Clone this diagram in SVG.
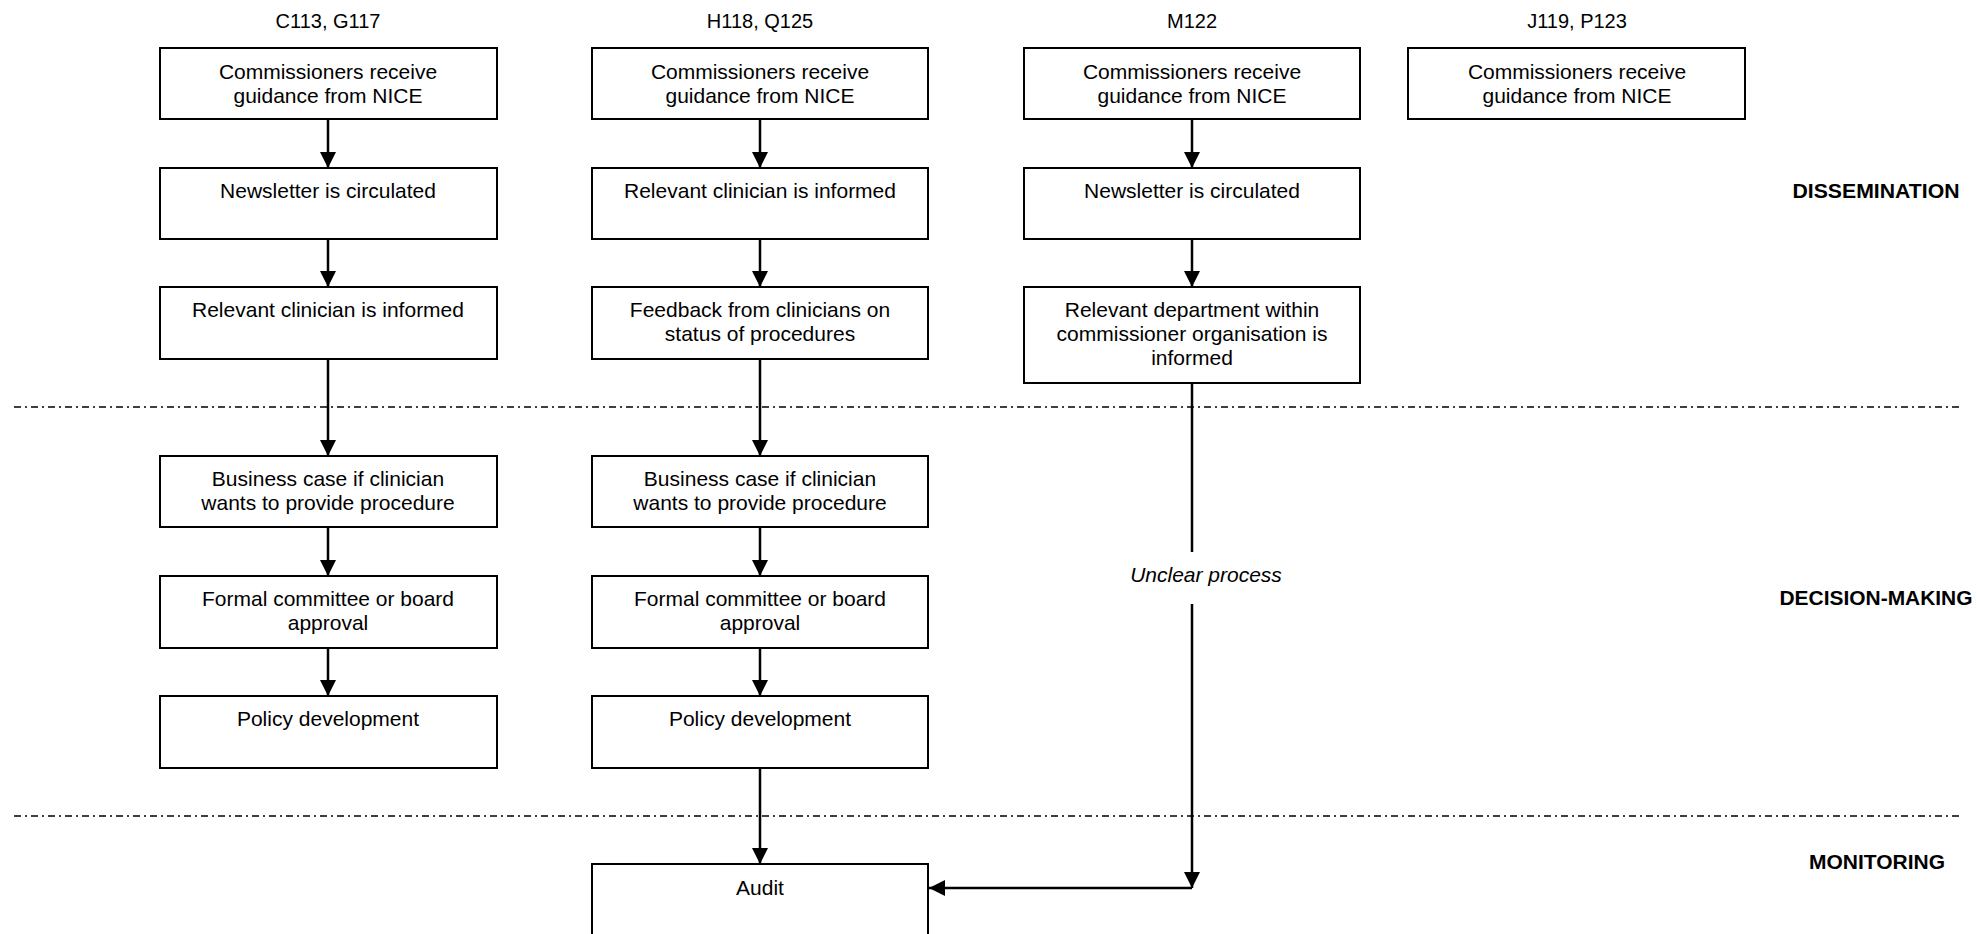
<svg xmlns="http://www.w3.org/2000/svg" width="1977" height="934" viewBox="0 0 1977 934">
<style>
.box{fill:#fff;stroke:#000;stroke-width:2}
.t{font-family:"Liberation Sans",Arial,sans-serif;font-size:21px;text-anchor:middle;fill:#000}
.h{font-size:20px}
.i{font-style:italic}
.ph{font-family:"Liberation Sans",Arial,sans-serif;font-size:20px;font-weight:bold;text-anchor:middle;fill:#000}
.c{stroke:#000;stroke-width:2.5;fill:none}
.d{stroke:#000;stroke-width:1.6;stroke-dasharray:7 4 2 4;fill:none}
</style>
<defs>
<marker id="ah" viewBox="0 0 16 16" refX="16" refY="8" markerWidth="16" markerHeight="16" markerUnits="userSpaceOnUse" orient="auto">
<path d="M0,0 L16,8 L0,16 z" fill="#000"/>
</marker>
</defs>
<rect width="1977" height="934" fill="#fff"/>
<g id="separators">
<line class="d" x1="14" y1="407" x2="1960" y2="407"/>
<line class="d" x1="14" y1="816" x2="1960" y2="816"/>
</g>
<g id="labels">
<text class="t h" x="328" y="28">C113, G117</text>
<text class="t h" x="760" y="28">H118, Q125</text>
<text class="t h" x="1192" y="28">M122</text>
<text class="t h" x="1577" y="28">J119, P123</text>
<text class="ph" x="1876" y="198" textLength="167" lengthAdjust="spacingAndGlyphs">DISSEMINATION</text>
<text class="ph" x="1876" y="605" textLength="193" lengthAdjust="spacingAndGlyphs">DECISION-MAKING</text>
<text class="ph" x="1877" y="869" textLength="136" lengthAdjust="spacingAndGlyphs">MONITORING</text>
<text class="t i" x="1206" y="582">Unclear process</text>
</g>
<g id="connectors">
<line class="c" x1="328" y1="119" x2="328" y2="168" marker-end="url(#ah)"/>
<line class="c" x1="328" y1="239" x2="328" y2="287" marker-end="url(#ah)"/>
<line class="c" x1="328" y1="359" x2="328" y2="456" marker-end="url(#ah)"/>
<line class="c" x1="328" y1="527" x2="328" y2="576" marker-end="url(#ah)"/>
<line class="c" x1="328" y1="648" x2="328" y2="696" marker-end="url(#ah)"/>
<line class="c" x1="760" y1="119" x2="760" y2="168" marker-end="url(#ah)"/>
<line class="c" x1="760" y1="239" x2="760" y2="287" marker-end="url(#ah)"/>
<line class="c" x1="760" y1="359" x2="760" y2="456" marker-end="url(#ah)"/>
<line class="c" x1="760" y1="527" x2="760" y2="576" marker-end="url(#ah)"/>
<line class="c" x1="760" y1="648" x2="760" y2="696" marker-end="url(#ah)"/>
<line class="c" x1="760" y1="768" x2="760" y2="864" marker-end="url(#ah)"/>
<line class="c" x1="1192" y1="119" x2="1192" y2="168" marker-end="url(#ah)"/>
<line class="c" x1="1192" y1="239" x2="1192" y2="287" marker-end="url(#ah)"/>
<line class="c" x1="1192" y1="383" x2="1192" y2="552"/>
<line class="c" x1="1192" y1="604" x2="1192" y2="888" marker-end="url(#ah)"/>
<line class="c" x1="1192" y1="888" x2="929" y2="888" marker-end="url(#ah)"/>
</g>
<g id="c1r1"><rect class="box" x="160" y="48" width="337" height="71"/><text class="t" x="328" y="79">Commissioners receive</text><text class="t" x="328" y="103">guidance from NICE</text></g>
<g id="c1r2"><rect class="box" x="160" y="168" width="337" height="71"/><text class="t" x="328" y="198">Newsletter is circulated</text></g>
<g id="c1r3"><rect class="box" x="160" y="287" width="337" height="72"/><text class="t" x="328" y="317">Relevant clinician is informed</text></g>
<g id="c1r4"><rect class="box" x="160" y="456" width="337" height="71"/><text class="t" x="328" y="486">Business case if clinician</text><text class="t" x="328" y="510">wants to provide procedure</text></g>
<g id="c1r5"><rect class="box" x="160" y="576" width="337" height="72"/><text class="t" x="328" y="606">Formal committee or board</text><text class="t" x="328" y="630">approval</text></g>
<g id="c1r6"><rect class="box" x="160" y="696" width="337" height="72"/><text class="t" x="328" y="726">Policy development</text></g>
<g id="c2r1"><rect class="box" x="592" y="48" width="336" height="71"/><text class="t" x="760" y="79">Commissioners receive</text><text class="t" x="760" y="103">guidance from NICE</text></g>
<g id="c2r2"><rect class="box" x="592" y="168" width="336" height="71"/><text class="t" x="760" y="198">Relevant clinician is informed</text></g>
<g id="c2r3"><rect class="box" x="592" y="287" width="336" height="72"/><text class="t" x="760" y="317">Feedback from clinicians on</text><text class="t" x="760" y="341">status of procedures</text></g>
<g id="c2r4"><rect class="box" x="592" y="456" width="336" height="71"/><text class="t" x="760" y="486">Business case if clinician</text><text class="t" x="760" y="510">wants to provide procedure</text></g>
<g id="c2r5"><rect class="box" x="592" y="576" width="336" height="72"/><text class="t" x="760" y="606">Formal committee or board</text><text class="t" x="760" y="630">approval</text></g>
<g id="c2r6"><rect class="box" x="592" y="696" width="336" height="72"/><text class="t" x="760" y="726">Policy development</text></g>
<g id="audit"><rect class="box" x="592" y="864" width="336" height="72"/><text class="t" x="760" y="895">Audit</text></g>
<g id="c3r1"><rect class="box" x="1024" y="48" width="336" height="71"/><text class="t" x="1192" y="79">Commissioners receive</text><text class="t" x="1192" y="103">guidance from NICE</text></g>
<g id="c3r2"><rect class="box" x="1024" y="168" width="336" height="71"/><text class="t" x="1192" y="198">Newsletter is circulated</text></g>
<g id="c3r3"><rect class="box" x="1024" y="287" width="336" height="96"/><text class="t" x="1192" y="317">Relevant department within</text><text class="t" x="1192" y="341">commissioner organisation is</text><text class="t" x="1192" y="365">informed</text></g>
<g id="c4r1"><rect class="box" x="1408" y="48" width="337" height="71"/><text class="t" x="1577" y="79">Commissioners receive</text><text class="t" x="1577" y="103">guidance from NICE</text></g>
</svg>
